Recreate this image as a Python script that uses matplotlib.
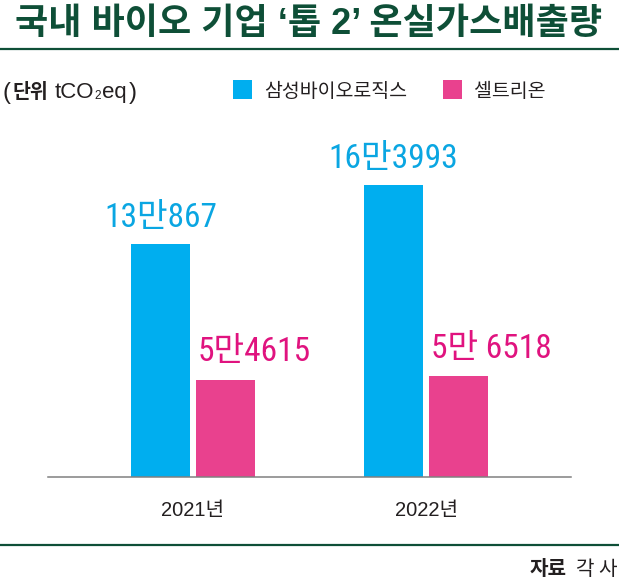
import matplotlib
matplotlib.use("Agg")
import matplotlib.pyplot as plt
import matplotlib.font_manager as fm
from matplotlib.lines import Line2D
from matplotlib.patches import Rectangle

# ---------------- data ----------------
years = ["2021년", "2022년"]
series_names = ["삼성바이오로직스", "셀트리온"]
samsung = [130867, 163993]
celltrion = [54615, 56518]
samsung_labels = ["13만867", "16만3993"]
celltrion_labels = ["5만4615", "5만 6518"]

title = "국내 바이오 기업 ‘톱 2’ 온실가스배출량"
source_bold = "자료"
source_rest = "각 사"

# ---------------- style ----------------
CYAN = "#00AEEF"
CYAN_TXT = "#0AA6E2"
PINK = "#E9418E"
PINK_TXT = "#E0137F"
GREEN = "#0E4F37"
DARK = "#231F20"
GRAY = "#808080"


def has_font(name):
    try:
        fm.findfont(fm.FontProperties(family=name), fallback_to_default=False)
        return True
    except Exception:
        return False


KR = "Noto Sans CJK KR"
narrow = None
for cand in ["Liberation Sans Narrow", "Roboto Condensed", "Open Sans Condensed"]:
    if has_font(cand):
        narrow = cand
        break
if narrow is None:
    narrow = "Liberation Sans"

plt.rcParams["font.family"] = ["Liberation Sans", KR, "DejaVu Sans"]

W, H = 619, 581
fig = plt.figure(figsize=(W / 100, H / 100), dpi=100)


def fx(x):
    return x / W


def fy(y_top):
    return 1 - y_top / H


# ---------------- axes ----------------
base_y = 477
ax = fig.add_axes([fx(48), fy(base_y), fx(571) - fx(48), 356 / H])
ax.set_xlim(-0.622, 1.622)
ax.set_ylim(0, 200000)
for s in ["top", "right", "left"]:
    ax.spines[s].set_visible(False)
ax.spines["bottom"].set_color(GRAY)
ax.spines["bottom"].set_linewidth(1.1)
ax.set_yticks([])

xs = list(range(len(years)))
off = 0.1395
bw = 0.251
ax.bar([x - off for x in xs], samsung, width=bw, color=CYAN, zorder=1)
ax.bar([x + off for x in xs], celltrion, width=bw, color=PINK, zorder=1)

ax.set_xticks(xs)
ax.set_xticklabels(years, fontsize=14.5, color=DARK)
ax.tick_params(axis="x", length=0, pad=17)

for x, v, lab in zip(xs, samsung, samsung_labels):
    ax.annotate(lab, xy=(x - off, v), xytext=(0, 12), textcoords="offset points",
                ha="center", va="baseline", fontsize=24, color=CYAN_TXT,
                family=[narrow, KR])
for x, v, lab in zip(xs, celltrion, celltrion_labels):
    ax.annotate(lab, xy=(x + off - bw / 2, v), xytext=(1, 13.5), textcoords="offset points",
                ha="left", va="baseline", fontsize=24, color=PINK_TXT,
                family=[narrow, KR])

# ---------------- title & rules ----------------
fig.text(fx(308.5), fy(34), title, ha="center", va="baseline", fontsize=26,
         fontweight="bold", color=GREEN, family=["Liberation Sans", KR])
fig.add_artist(Line2D([0, 1], [fy(49), fy(49)], color=GREEN, linewidth=1.6))
fig.add_artist(Line2D([0, 1], [fy(545), fy(545)], color=GREEN, linewidth=1.6))

renderer = fig.canvas.get_renderer()


def put(x, y_base, s, **kw):
    t = fig.text(fx(x), fy(y_base), s, ha="left", va="baseline", **kw)
    bb = t.get_window_extent(renderer=renderer)
    return bb.x1


# unit text
ub = 98
x = 3
x = put(x, ub + 1.5, "(", fontsize=17, color=DARK, family=["Liberation Sans", KR])
x = put(x + 2, ub, "단위", fontsize=14, fontweight="bold", color=DARK, family=[KR])
x = put(x + 6, ub, "tCO", fontsize=16, color=DARK, family=["Liberation Sans", KR])
x = put(x + 0.5, ub + 1, "2", fontsize=8.5, color=DARK, family=["Liberation Sans"])
x = put(x + 0.5, ub, "eq", fontsize=16, color=DARK, family=["Liberation Sans", KR])
x = put(x + 2, ub + 1.5, ")", fontsize=17, color=DARK, family=["Liberation Sans", KR])

# legend
leg_items = [(233, CYAN, series_names[0]), (443, PINK, series_names[1])]
for lx, col, name in leg_items:
    fig.add_artist(Rectangle((fx(lx), fy(99)), 19 / W, 19 / H, transform=fig.transFigure,
                             color=col, linewidth=0))
    put(lx + 31, 97, name, fontsize=14, color=DARK, family=[KR])

# source
t2 = fig.text(fx(617), fy(575), source_rest, ha="right", va="baseline", fontsize=14.5,
              color=DARK, family=[KR])
bb = t2.get_window_extent(renderer=renderer)
fig.text(bb.x0 / W - 9 / W, fy(575), source_bold, ha="right", va="baseline", fontsize=14.5,
         fontweight="bold", color=DARK, family=[KR])

fig.savefig("out.png", dpi=100)
